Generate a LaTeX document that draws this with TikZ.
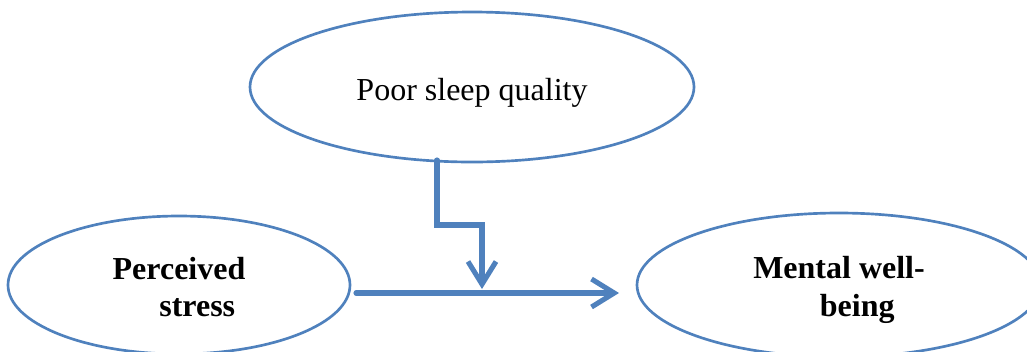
\documentclass[tikz,border=0pt]{standalone}
\usepackage{fontspec}
\setmainfont{Liberation Serif}
\usetikzlibrary{positioning}
\usetikzlibrary{shapes.geometric,arrows.meta}
\definecolor{accent}{RGB}{79,129,189}

\begin{document}
\begin{tikzpicture}[x=0.75pt,y=-0.75pt,
every node/.style={draw=accent,line width=2pt,ellipse,inner sep=0pt,text=black},
link/.style={draw=accent,line width=3.8pt,line cap=round,line join=miter,
  -{Straight Barb[length=17pt,width=21pt]}}]
\useasboundingbox (0,0) rectangle (1027,351);
\node[minimum width=333pt,minimum height=112.5pt,
  font=\fontsize{24}{28}\selectfont] (sleep) at (472,87)
  {\raisebox{-4.5pt}[\height][\depth]{Poor sleep quality}};
\node[minimum width=256.5pt,minimum height=103.5pt,align=left,
  font=\fontsize{24}{28}\selectfont\bfseries] (stress) at (179,285)
  {\rule{0pt}{20pt}Perceived\\\hspace*{35pt}stress};
\node[minimum width=303pt,minimum height=108pt,align=left,
  font=\fontsize{24}{28}\selectfont\bfseries] (wellbeing) at (839,285)
  {\rule{0pt}{24pt}Mental well-\\\hspace*{50pt}being};
% moderation path
\coordinate (tap) at (437,160);
\coordinate (bend) at (482,225);
\coordinate (join) at (482,289);
\draw[link] ([xshift=3.5pt,yshift=-6pt]stress.east) -- ([xshift=-12.5pt,yshift=-6pt]wellbeing.west);
\draw[link] (tap) |- (bend) -- (join);
\end{tikzpicture}
\end{document}
